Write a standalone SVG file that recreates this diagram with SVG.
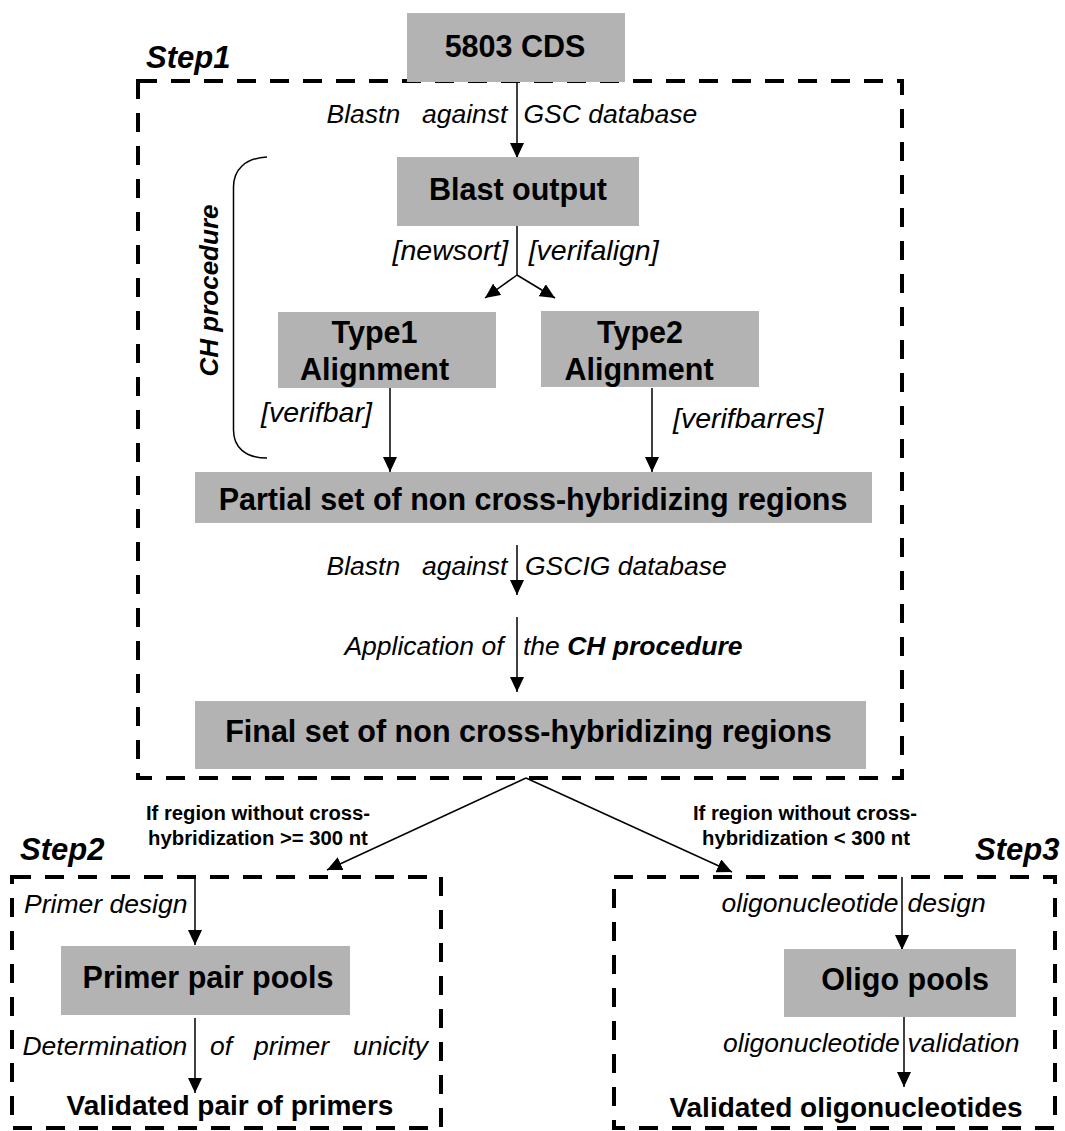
<svg xmlns="http://www.w3.org/2000/svg" width="1065" height="1131" viewBox="0 0 1065 1131">
<defs>
<marker id="ah" markerUnits="userSpaceOnUse" markerWidth="16" markerHeight="14" refX="15" refY="7" orient="auto">
<path d="M0,0 L15,7 L0,14 z" fill="#000"/>
</marker>
<style>
.box{fill:#b3b3b3;stroke:none}
.frame{fill:none;stroke:#000;stroke-width:4;stroke-dasharray:19 14}
.bt{font-family:"Liberation Sans",Arial,sans-serif;font-weight:bold;font-size:30.5px;fill:#000;text-anchor:middle}
.step{font-family:"Liberation Sans",Arial,sans-serif;font-weight:bold;font-style:italic;font-size:31px;fill:#000}
.lab{font-family:"Liberation Sans",Arial,sans-serif;font-style:italic;font-size:26.5px;fill:#000}
.br{font-family:"Liberation Sans",Arial,sans-serif;font-style:italic;font-size:28.5px;fill:#000}
.cond{font-family:"Liberation Sans",Arial,sans-serif;font-weight:bold;font-size:20.3px;fill:#000;text-anchor:middle}
.out{font-family:"Liberation Sans",Arial,sans-serif;font-weight:bold;font-size:28px;fill:#000;text-anchor:middle}
.conn{fill:none;stroke:#000;stroke-width:1.5}
</style>
</defs>
<rect width="1065" height="1131" fill="#fff"/>

<g id="step1">
<rect class="frame" x="138" y="81" width="764" height="697"/>
<text class="step" x="146" y="68">Step1</text>
</g>
<g id="step2">
<rect class="frame" x="12" y="877" width="429" height="251"/>
<text class="step" x="20" y="860">Step2</text>
</g>
<g id="step3">
<rect class="frame" x="614" y="877" width="441" height="251"/>
<text class="step" x="975" y="860">Step3</text>
</g>

<g id="connectors">
<line class="conn" x1="517" y1="82" x2="517" y2="158" marker-end="url(#ah)"/>
<polyline class="conn" points="517,226 517,275"/>
<line class="conn" x1="517" y1="275" x2="485" y2="298" marker-end="url(#ah)"/>
<line class="conn" x1="517" y1="275" x2="555" y2="298" marker-end="url(#ah)"/>
<line class="conn" x1="390" y1="388" x2="390" y2="472" marker-end="url(#ah)"/>
<line class="conn" x1="652" y1="388" x2="652" y2="472" marker-end="url(#ah)"/>
<line class="conn" x1="517" y1="545" x2="517" y2="595" marker-end="url(#ah)"/>
<line class="conn" x1="517" y1="617" x2="517" y2="692" marker-end="url(#ah)"/>
<line class="conn" x1="526" y1="778" x2="327" y2="870" marker-end="url(#ah)"/>
<line class="conn" x1="526" y1="778" x2="732" y2="872" marker-end="url(#ah)"/>
<line class="conn" x1="195" y1="877" x2="195" y2="945" marker-end="url(#ah)"/>
<line class="conn" x1="195" y1="1018" x2="195" y2="1093" marker-end="url(#ah)"/>
<line class="conn" x1="902" y1="877" x2="902" y2="950" marker-end="url(#ah)"/>
<line class="conn" x1="904" y1="1017" x2="904" y2="1087" marker-end="url(#ah)"/>
<path class="conn" d="M267,157 C245,158 233.5,170 233.5,187 L233.5,430 C233.5,447 245,458 267,458"/>
</g>

<g id="labels">
<text class="lab" y="123"><tspan x="326.5">Blastn</tspan><tspan x="422">against</tspan><tspan x="523.5">GSC database</tspan></text>
<text class="br" x="392.6" y="260">[newsort]</text>
<text class="br" x="528.7" y="260">[verifalign]</text>
<text class="br" x="261" y="422">[verifbar]</text>
<text class="br" x="673" y="428">[verifbarres]</text>
<text class="step" transform="translate(217.7,290.5) rotate(-90)" text-anchor="middle" font-size="26px" style="font-size:26px">CH procedure</text>
<text class="lab" y="575"><tspan x="326.5">Blastn</tspan><tspan x="422">against</tspan><tspan x="525">GSCIG database</tspan></text>
<text class="lab" y="655"><tspan x="344.4">Application of</tspan><tspan x="523">the </tspan><tspan font-weight="bold">CH procedure</tspan></text>
<text class="cond" x="258" y="820">If region without cross-</text>
<text class="cond" x="258" y="845">hybridization &gt;= 300 nt</text>
<text class="cond" x="805" y="820">If region without cross-</text>
<text class="cond" x="806" y="845">hybridization &lt; 300 nt</text>
<text class="lab" x="24" y="913">Primer design</text>
<text class="lab" y="1055"><tspan x="22.4">Determination</tspan><tspan x="210">of</tspan><tspan x="254">primer</tspan><tspan x="353">unicity</tspan></text>
<text class="lab" y="912"><tspan x="721.6">oligonucleotide</tspan><tspan x="907.6">design</tspan></text>
<text class="lab" y="1052"><tspan x="723">oligonucleotide</tspan><tspan x="907.6">validation</tspan></text>
</g>

<g id="n-cds">
<rect class="box" x="407" y="13" width="218" height="69"/>
<text class="bt" x="515" y="57">5803 CDS</text>
</g>
<g id="n-blast">
<rect class="box" x="397" y="157" width="242" height="69"/>
<text class="bt" x="518" y="200">Blast output</text>
</g>
<g id="n-type1">
<rect class="box" x="278" y="312" width="218" height="76"/>
<text class="bt" x="374.5" y="343">Type1</text>
<text class="bt" x="374.5" y="380">Alignment</text>
</g>
<g id="n-type2">
<rect class="box" x="541" y="311" width="218" height="76"/>
<text class="bt" x="640" y="343">Type2</text>
<text class="bt" x="639" y="380">Alignment</text>
</g>
<g id="n-partial">
<rect class="box" x="195" y="472" width="677" height="51"/>
<text class="bt" x="533" y="510">Partial set of non cross-hybridizing regions</text>
</g>
<g id="n-final">
<rect class="box" x="195" y="701" width="671" height="68"/>
<text class="bt" x="528.5" y="742">Final set of non cross-hybridizing regions</text>
</g>
<g id="n-primer">
<rect class="box" x="61" y="946" width="289" height="69"/>
<text class="bt" x="208" y="988">Primer pair pools</text>
</g>
<g id="n-validated-primers">
<text class="out" x="230" y="1115">Validated pair of primers</text>
</g>
<g id="n-oligo">
<rect class="box" x="784" y="949" width="232" height="68"/>
<text class="bt" x="905" y="990">Oligo pools</text>
</g>
<g id="n-validated-oligos">
<text class="out" x="846" y="1117">Validated oligonucleotides</text>
</g>
</svg>
